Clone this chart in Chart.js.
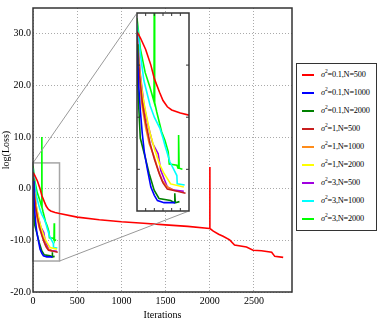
<!DOCTYPE html>
<html>
<head>
<meta charset="utf-8">
<title>log(Loss) vs Iterations</title>
<script src="https://cdn.jsdelivr.net/npm/chart.js@4.4.1/dist/chart.umd.min.js"></script>
<style>
  body { margin: 0; background: #fff; }
  .wrap { position: relative; width: 382px; height: 327px; }
  #mainChart { position: absolute; left: 0; top: 0; }
  #insetChart { position: absolute; left: 136px; top: 12px; background: #fff; }
  #legendBox {
    position: absolute; left: 296px; top: 63px; width: 81px; height: 168px;
    border: 1.5px solid #333; background: #fff;
    font-family: 'Liberation Serif', serif; font-size: 8.3px; color: #000;
    padding-top: 2px; box-sizing: border-box;
  }
  .item { height: 18px; line-height: 18px; position: relative; white-space: nowrap; }
  .swatch { position: absolute; left: 5px; top: 8px; width: 12px; height: 2px; }
  .txt { position: absolute; left: 24px; letter-spacing: -0.2px; }
  .txt sup { font-size: 5.5px; vertical-align: 4px; line-height: 0; }
</style>
</head>
<body>
<div class="wrap">
  <canvas id="mainChart" width="382" height="327"></canvas>
  <canvas id="insetChart" width="54" height="200"></canvas>
  <div id="legendBox"></div>
</div>

<script>
// ---- data ----
var sigma2 = ['0.1', '0.1', '0.1', '1', '1', '1', '3', '3', '3'];
var nSize  = [500, 1000, 2000, 500, 1000, 2000, 500, 1000, 2000];
var colors = ['#ff0000', '#0000ff', '#008000', '#c81e1e', '#ff8c1a', '#ffff00', '#a000e0', '#00ffff', '#00ff00'];

var xTicks = [0, 500, 1000, 1500, 2000, 2500];
var yTicks = [-20, -10, 0, 10, 20, 30];

// sigma2=0.1, N=500
var it_01_500   = [0, 20, 50, 80, 100, 130, 150, 175, 200, 250, 300, 500, 750, 1000, 1250, 1500, 1750, 1998, 2000, 2002, 2040, 2100, 2150, 2225, 2280, 2415, 2490, 2585, 2700, 2735, 2830];
var loss_01_500 = [3.2, 2.6, 1.5, 0, -1.3, -2.6, -3.4, -4.0, -4.3, -4.6, -4.8, -5.5, -6.0, -6.4, -6.7, -7.0, -7.3, -7.7, 4.2, -7.7, -8.2, -8.8, -9.2, -9.9, -10.9, -11.3, -11.9, -12.0, -12.3, -13.1, -13.3];
// sigma2=0.1, N=1000
var it_01_1000   = [0, 10, 20, 30, 42, 60, 80, 100, 118, 156, 220];
var loss_01_1000 = [1.5, -2.0, -4.5, -6.5, -8.3, -10.0, -11.7, -12.5, -13.0, -13.2, -13.2];
// sigma2=0.1, N=2000
var it_01_2000   = [0, 5, 10, 19, 42, 70, 99, 127, 194, 215, 218, 221, 245];
var loss_01_2000 = [2.0, -2.0, -4.0, -7.0, -8.5, -10.4, -12.0, -12.8, -13.0, -13.2, -12.3, -13.2, -13.1];
// sigma2=1, N=500
var it_1_500   = [0, 15, 30, 50, 75, 100, 130, 150, 175, 232, 280];
var loss_1_500 = [2.5, -1.0, -3.5, -5.5, -7.5, -9.0, -10.5, -11.3, -11.9, -12.1, -12.3];
// sigma2=1, N=1000
var it_1_1000   = [0, 15, 30, 50, 70, 99, 125, 146, 175, 210];
var loss_1_1000 = [2.0, -1.5, -4.0, -6.0, -7.5, -8.8, -10.2, -11.1, -11.7, -12.0];
// sigma2=1, N=2000
var it_1_2000   = [0, 15, 32, 50, 75, 100, 130, 156, 194, 270];
var loss_1_2000 = [2.5, -0.5, -2.9, -4.5, -6.5, -8.0, -9.5, -10.4, -11.4, -11.7];
// sigma2=3, N=500
var it_3_500   = [0, 20, 40, 60, 90, 122, 137, 175, 213, 270];
var loss_3_500 = [3.0, -1.0, -3.8, -5.5, -7.5, -8.5, -10.1, -11.7, -12.0, -12.1];
// sigma2=3, N=1000
var it_3_1000   = [0, 20, 40, 76, 100, 133, 150, 161, 190, 209, 230, 232, 275];
var loss_3_1000 = [4.0, 1.0, -1.5, -3.9, -5.0, -6.1, -7.0, -7.7, -9.3, -9.9, -10.6, -11.4, -11.5];
// sigma2=3, N=2000
var it_3_2000   = [0, 20, 47, 76, 98, 100, 102, 114, 142, 161, 180, 186, 230, 237, 240, 243, 262];
var loss_3_2000 = [4.5, 1.5, -0.7, -2.2, -3.5, 10.0, -3.6, -4.5, -6.4, -7.2, -8.3, -9.5, -9.6, -9.9, -6.7, -9.9, -10.0];

var iterSeries = [it_01_500, it_01_1000, it_01_2000, it_1_500, it_1_1000, it_1_2000, it_3_500, it_3_1000, it_3_2000];
var lossSeries = [loss_01_500, loss_01_1000, loss_01_2000, loss_1_500, loss_1_1000, loss_1_2000, loss_3_500, loss_3_1000, loss_3_2000];

// inset window (data units) and inset ticks
var zoomX = [0, 300];
var zoomY = [-14, 5];
var insetXTicks = [50, 100, 150, 200, 250];
var insetYTicks = [-10, -5, 0];

Chart.defaults.font.family = "'Liberation Serif', 'Times New Roman', serif";
Chart.defaults.color = '#000';

function makeDatasets() {
    return iterSeries.map(function (xs, i) {
        return {
            label: 'σ²=' + sigma2[i] + ',N=' + nSize[i],
            data: xs.map(function (x, j) { return { x: x, y: lossSeries[i][j] }; }),
            borderColor: colors[i],
            backgroundColor: colors[i],
            borderWidth: 1.6,
            pointRadius: 0,
            showLine: true,
            tension: 0
        };
    });
}

var insetLeft = 137, insetTop = 13, insetRight = 189, insetBottom = 211;

// frame + zoom rectangle + connector lines on the main chart
var mainDecor = {
    id: 'mainDecor',
    beforeDatasetsDraw: function (chart) {
        var ctx = chart.ctx, xs = chart.scales.x, ys = chart.scales.y;
        var x0 = xs.getPixelForValue(zoomX[0]), x1 = xs.getPixelForValue(zoomX[1]);
        var y0 = ys.getPixelForValue(zoomY[1]), y1 = ys.getPixelForValue(zoomY[0]);
        ctx.save();
        ctx.strokeStyle = '#a6a6a6';
        ctx.lineWidth = 1.5;
        ctx.strokeRect(x0, y0, x1 - x0, y1 - y0);
        ctx.restore();
    },
    afterDraw: function (chart) {
        var ctx = chart.ctx, a = chart.chartArea, xs = chart.scales.x, ys = chart.scales.y;
        var x0 = xs.getPixelForValue(zoomX[0]), x1 = xs.getPixelForValue(zoomX[1]);
        var y0 = ys.getPixelForValue(zoomY[1]), y1 = ys.getPixelForValue(zoomY[0]);
        ctx.save();
        ctx.strokeStyle = '#999';
        ctx.lineWidth = 1;
        ctx.beginPath();
        ctx.moveTo(x0, y0); ctx.lineTo(insetLeft, insetTop);
        ctx.moveTo(x1, y1); ctx.lineTo(insetRight, insetBottom);
        ctx.stroke();
        ctx.strokeStyle = '#333';
        ctx.lineWidth = 1.5;
        ctx.strokeRect(a.left, a.top, a.right - a.left, a.bottom - a.top);
        ctx.restore();
    }
};

// frame and inward ticks for the inset
var insetDecor = {
    id: 'insetDecor',
    afterDraw: function (chart) {
        var ctx = chart.ctx, a = chart.chartArea, xs = chart.scales.x, ys = chart.scales.y;
        ctx.save();
        ctx.strokeStyle = '#333';
        ctx.lineWidth = 1.5;
        ctx.strokeRect(a.left, a.top, a.right - a.left, a.bottom - a.top);
        ctx.lineWidth = 1;
        ctx.beginPath();
        insetXTicks.forEach(function (v) {
            var px = xs.getPixelForValue(v);
            ctx.moveTo(px, a.top); ctx.lineTo(px, a.top + 3);
            ctx.moveTo(px, a.bottom); ctx.lineTo(px, a.bottom - 3);
        });
        insetYTicks.forEach(function (v) {
            var py = ys.getPixelForValue(v);
            ctx.moveTo(a.left, py); ctx.lineTo(a.left + 3, py);
            ctx.moveTo(a.right, py); ctx.lineTo(a.right - 3, py);
        });
        ctx.stroke();
        ctx.restore();
    }
};

window.onload = function () {
    new Chart(document.getElementById('mainChart').getContext('2d'), {
        type: 'scatter',
        data: { datasets: makeDatasets() },
        options: {
            responsive: false,
            animation: false,
            layout: { padding: { top: 5, right: 90, left: 0, bottom: 0 } },
            plugins: { legend: { display: false }, tooltip: { enabled: false } },
            scales: {
                x: {
                    type: 'linear', min: 0, max: 2930,
                    afterBuildTicks: function (s) { s.ticks = xTicks.map(function (v) { return { value: v }; }); },
                    afterFit: function (s) { s.height = 35; },
                    ticks: { font: { size: 10 }, maxRotation: 0, padding: 3, callback: function (v) { return v; } },
                    grid: { color: '#aaa', drawTicks: false },
                    border: { display: false, dash: [1, 2] },
                    title: { display: true, text: 'Iterations', font: { size: 10 }, padding: { top: 0, bottom: 6 } }
                },
                y: {
                    type: 'linear', min: -20, max: 35,
                    afterBuildTicks: function (s) { s.ticks = yTicks.map(function (v) { return { value: v }; }); },
                    afterFit: function (s) { s.width = 33; },
                    ticks: { font: { size: 10 }, padding: 2, callback: function (v) { return v.toFixed(1); } },
                    grid: { color: '#aaa', drawTicks: false },
                    border: { display: false, dash: [1, 2] },
                    title: { display: true, text: 'log(Loss)', font: { size: 10 }, padding: { top: 0, bottom: 0 } }
                }
            }
        },
        plugins: [mainDecor]
    });

    new Chart(document.getElementById('insetChart').getContext('2d'), {
        type: 'scatter',
        data: { datasets: makeDatasets() },
        options: {
            responsive: false,
            animation: false,
            layout: { padding: 1 },
            plugins: { legend: { display: false }, tooltip: { enabled: false } },
            scales: {
                x: { type: 'linear', min: zoomX[0], max: zoomX[1], display: false },
                y: { type: 'linear', min: zoomY[0], max: zoomY[1], display: false }
            }
        },
        plugins: [insetDecor]
    });

    // HTML legend built from the series arrays
    var box = document.getElementById('legendBox');
    sigma2.forEach(function (s, i) {
        var row = document.createElement('div');
        row.className = 'item';
        row.innerHTML = '<span class="swatch" style="background:' + colors[i] + '"></span>' +
            '<span class="txt"><i>σ</i><sup>2</sup>=' + s + ',N=' + nSize[i] + '</span>';
        box.appendChild(row);
    });
};
</script>
</body>
</html>
